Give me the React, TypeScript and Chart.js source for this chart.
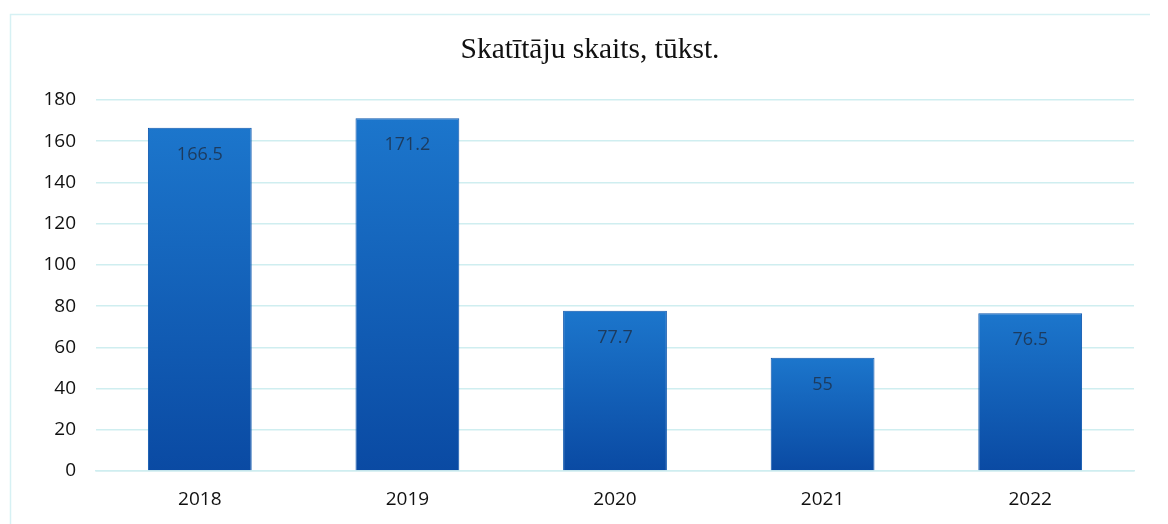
import React, { useEffect, useRef } from "react";
import { Chart, registerables } from "chart.js";

Chart.register(...registerables);

const categories = ["2018", "2019", "2020", "2021", "2022"];
const values = [166.5, 171.2, 77.7, 55, 76.5];
const valueLabels = ["166.5", "171.2", "77.7", "55", "76.5"];
const titleText = "Skatītāju skaits, tūkst.";

const labelPlugin = {
  id: "barLabels",
  afterDatasetsDraw(chart: any) {
    const ctx = chart.ctx;
    const meta = chart.getDatasetMeta(0);
    ctx.save();
    ctx.font = "18px 'Open Sans'";
    ctx.fillStyle = "#1d3b5e";
    ctx.textAlign = "center";
    ctx.textBaseline = "middle";
    meta.data.forEach((bar: any, i: number) => {
      ctx.fillText(valueLabels[i], bar.x, bar.y + 27);
    });
    ctx.restore();
  },
};

const framePlugin = {
  id: "frame",
  beforeDraw(chart: any) {
    const ctx = chart.ctx;
    ctx.save();
    ctx.strokeStyle = "#d6f1f4";
    ctx.lineWidth = 1.5;
    ctx.beginPath();
    ctx.moveTo(10.5, 524);
    ctx.lineTo(10.5, 14.5);
    ctx.lineTo(1150, 14.5);
    ctx.stroke();
    ctx.font = "29.5px 'Liberation Serif'";
    ctx.fillStyle = "#111";
    ctx.textAlign = "center";
    ctx.textBaseline = "middle";
    ctx.fillText(titleText, 590, 50);
    ctx.restore();
  },
};

export default function App() {
  const ref = useRef<HTMLCanvasElement | null>(null);
  useEffect(() => {
    document.body.style.margin = "0";
    const canvas = ref.current!;
    const chart = new Chart(canvas, {
      type: "bar",
      data: {
        labels: categories,
        datasets: [
          {
            data: values,
            backgroundColor: (c: any) => {
              const ch = c.chart;
              const y = ch.scales?.y;
              if (!ch.chartArea || !y || c.raw == null) return "#1466bc";
              const top = y.getPixelForValue(c.raw);
              const bottom = y.getPixelForValue(0);
              if (!isFinite(top) || !isFinite(bottom) || top === bottom) return "#1466bc";
              const g = ch.ctx.createLinearGradient(0, top, 0, bottom);
              g.addColorStop(0, "#1c76cc");
              g.addColorStop(1, "#0a4aa3");
              return g;
            },
            borderColor: "#0c55ad",
            borderWidth: 1,
            categoryPercentage: 1,
            barPercentage: 0.5,
          },
        ],
      },
      options: {
        animation: false,
        responsive: false,
        layout: { padding: { top: 100, right: 34, bottom: 0, left: 0 } },
        plugins: {
          legend: { display: false },
          tooltip: { enabled: false },
          title: { display: false },
        },
        scales: {
          x: {
            grid: { display: false },
            border: { color: "#cfeef0", width: 1.5 },
            ticks: {
              color: "#111",
              font: { family: "'Open Sans'", size: 19 },
              padding: 9,
            },
            afterFit: (s: any) => {
              s.height = 53;
            },
          },
          y: {
            min: 0,
            max: 180,
            ticks: {
              stepSize: 20,
              color: "#111",
              font: { family: "'Open Sans'", size: 19 },
              padding: 20,
            },
            grid: { color: "#cfeef0", lineWidth: 1.5, drawTicks: false },
            border: { display: false },
            afterFit: (s: any) => {
              s.width = 96;
            },
          },
        },
      },
      plugins: [labelPlugin, framePlugin],
    });
    return () => chart.destroy();
  }, []);
  return (
    <div style={{ position: "fixed", left: 0, top: 0, width: 1168, height: 524, background: "#fff" }}>
      <canvas ref={ref} width={1168} height={524} />
    </div>
  );
}
